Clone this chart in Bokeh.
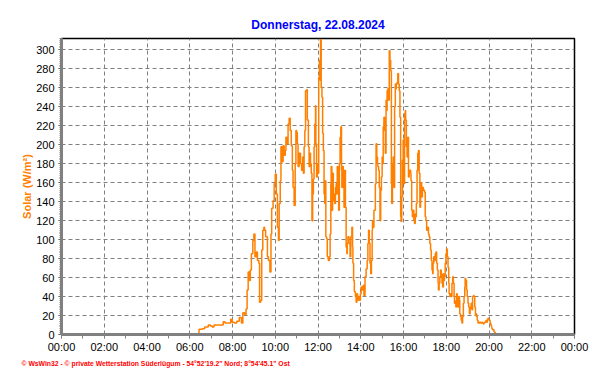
from bokeh.plotting import figure
from bokeh.models import Range1d, FixedTicker, Title
from bokeh.embed import file_html
from bokeh.resources import INLINE

title_text = "Donnerstag, 22.08.2024"
y_label = "Solar (W/m²)"
footer = "© WsWin32  -  © private Wetterstation Süderlügum  -  54°52'19.2\" Nord; 8°54'45.1\" Ost"

x_tick_hours = [0, 2, 4, 6, 8, 10, 12, 14, 16, 18, 20, 22, 24]
x_tick_labels = ["00:00", "02:00", "04:00", "06:00", "08:00", "10:00", "12:00",
                 "14:00", "16:00", "18:00", "20:00", "22:00", "00:00"]
y_ticks = [0, 20, 40, 60, 80, 100, 120, 140, 160, 180, 200, 220, 240, 260, 280, 300]

times = [
    "00:00", "06:25", "06:26", "06:35", "06:42", "06:52", "06:58", "07:03", "07:08", "07:20",
    "07:31", "07:34", "07:39", "07:45", "07:53", "07:55", "07:59", "08:05", "08:09", "08:12",
    "08:17", "08:19", "08:25", "08:29", "08:34", "08:38", "08:41", "08:44", "08:48", "08:50",
    "08:53", "08:57", "09:00", "09:03", "09:07", "09:10", "09:14", "09:16", "09:19", "09:22",
    "09:25", "09:28", "09:30", "09:33", "09:38", "09:41", "09:45", "09:48", "09:50", "09:54",
    "09:57", "10:00", "10:03", "10:06", "10:09", "10:11", "10:14", "10:16", "10:19", "10:22",
    "10:25", "10:28", "10:30", "10:33", "10:36", "10:39", "10:42", "10:45", "10:48", "10:50",
    "10:53", "10:56", "10:58", "11:00", "11:02", "11:04", "11:07", "11:09", "11:11", "11:14",
    "11:17", "11:19", "11:21", "11:23", "11:25", "11:28", "11:30", "11:33", "11:35", "11:37",
    "11:39", "11:41", "11:43", "11:45", "11:47", "11:49", "11:51", "11:53", "11:54", "11:56",
    "11:58", "12:00", "12:02", "12:04", "12:06", "12:07", "12:09", "12:11", "12:13", "12:15",
    "12:17", "12:19", "12:21", "12:22", "12:24", "12:26", "12:29", "12:32", "12:34", "12:36",
    "12:37", "12:39", "12:41", "12:43", "12:45", "12:47", "12:49", "12:51", "12:52", "12:54",
    "12:56", "12:58", "13:00", "13:02", "13:04", "13:06", "13:07", "13:09", "13:11", "13:13",
    "13:15", "13:17", "13:19", "13:21", "13:22", "13:24", "13:27", "13:30", "13:32", "13:35",
    "13:37", "13:38", "13:40", "13:42", "13:45", "13:47", "13:49", "13:51", "13:53", "13:56",
    "13:59", "14:01", "14:04", "14:07", "14:09", "14:12", "14:15", "14:18", "14:20", "14:22",
    "14:24", "14:26", "14:28", "14:30", "14:32", "14:33", "14:35", "14:37", "14:39", "14:41",
    "14:43", "14:45", "14:47", "14:48", "14:50", "14:52", "14:54", "14:56", "14:58", "15:00",
    "15:01", "15:03", "15:05", "15:07", "15:09", "15:11", "15:13", "15:14", "15:16", "15:18",
    "15:20", "15:22", "15:24", "15:26", "15:27", "15:29", "15:31", "15:33", "15:35", "15:37",
    "15:39", "15:40", "15:42", "15:44", "15:46", "15:48", "15:50", "15:52", "15:53", "15:55",
    "15:57", "15:59", "16:01", "16:03", "16:05", "16:06", "16:08", "16:10", "16:12", "16:14",
    "16:16", "16:18", "16:20", "16:21", "16:23", "16:25", "16:27", "16:29", "16:31", "16:33",
    "16:34", "16:36", "16:38", "16:40", "16:42", "16:44", "16:46", "16:48", "16:51", "16:53",
    "16:56", "16:59", "17:01", "17:03", "17:05", "17:07", "17:08", "17:10", "17:12", "17:14",
    "17:16", "17:18", "17:20", "17:22", "17:23", "17:25", "17:27", "17:29", "17:31", "17:33",
    "17:35", "17:37", "17:38", "17:40", "17:42", "17:44", "17:46", "17:48", "17:50", "17:52",
    "17:53", "17:55", "17:57", "17:59", "18:01", "18:03", "18:05", "18:07", "18:08", "18:10",
    "18:12", "18:14", "18:16", "18:18", "18:20", "18:22", "18:23", "18:25", "18:27", "18:29",
    "18:31", "18:33", "18:35", "18:37", "18:38", "18:40", "18:42", "18:44", "18:46", "18:48",
    "18:50", "18:52", "18:53", "18:55", "18:57", "18:59", "19:01", "19:03", "19:05", "19:07",
    "19:08", "19:10", "19:12", "19:14", "19:16", "19:18", "19:20", "19:22", "19:23", "19:25",
    "19:27", "19:29", "19:31", "19:33", "19:35", "19:37", "19:40", "19:42", "19:44", "19:46",
    "19:48", "19:50", "19:52", "19:53", "19:55", "19:57", "19:59", "20:01", "20:03", "20:05",
    "20:07", "20:08", "20:10", "20:12", "20:14", "20:16", "20:18", "20:20", "24:00",
]

solar = [
    0, 0, 5.5, 6, 8, 10, 9, 8, 10, 10,
    10, 13.5, 12, 12, 12, 16, 13, 12, 12, 14,
    14, 18, 12, 23, 21, 27, 47, 66, 57, 68,
    85, 99, 106, 82, 87, 78, 75, 34, 36, 89,
    110, 113, 110, 103, 82, 78, 66, 106, 133, 141,
    159, 169, 148, 113, 99, 138, 162, 198, 182, 199,
    189, 194, 208, 201, 222, 228, 215, 199, 173, 155,
    136, 180, 215, 213, 201, 177, 191, 191, 180, 173,
    187, 170, 198, 215, 257, 258, 226, 198, 177, 191,
    180, 170, 120, 148, 164, 198, 222, 241, 201, 166,
    180, 170, 271, 289, 268, 311, 261, 250, 212, 194,
    148, 138, 162, 103, 101, 82, 78, 82, 106, 159,
    177, 131, 170, 141, 148, 138, 155, 159, 148, 177,
    155, 131, 180, 208, 219, 173, 155, 177, 155, 134,
    173, 134, 92, 85, 96, 103, 96, 82, 103, 113,
    92, 75, 57, 45, 40, 34, 43, 36, 40, 36,
    43, 50, 47, 52, 41, 61, 69, 78, 96, 110,
    96, 75, 64, 78, 110, 120, 113, 131, 131, 159,
    201, 187, 180, 177, 173, 155, 120, 152, 166, 187,
    180, 219, 229, 215, 191, 247, 236, 257, 259, 247,
    299, 289, 278, 159, 138, 180, 187, 155, 240, 264,
    259, 264, 266, 275, 264, 257, 229, 124, 119, 145,
    184, 205, 159, 233, 236, 226, 198, 187, 208, 166,
    173, 173, 170, 162, 131, 124, 131, 120, 117, 127,
    124, 138, 173, 191, 194, 170, 134, 160, 145, 155,
    152, 150, 124, 120, 110, 113, 113, 106, 103, 96,
    89, 78, 68, 64, 75, 82, 78, 85, 87, 75,
    68, 54, 47, 54, 61, 68, 64, 54, 50, 64,
    57, 61, 75, 85, 90, 82, 71, 54, 43, 40,
    43, 40, 54, 61, 54, 40, 33, 35, 29, 43,
    40, 29, 40, 36, 22, 19, 15, 12, 19, 33,
    40, 50, 59, 57, 47, 40, 33, 29, 22, 27,
    29, 33, 26, 40, 41, 40, 29, 20, 22, 19,
    15, 12, 13, 12, 13, 12, 13, 12, 11, 12,
    13, 14, 15, 13, 15, 17, 16, 15, 12, 10,
    8, 6, 5, 5, 3, 2, 1, 0, 0,
]


def to_hours(s):
    h, m = s.split(":")
    return int(h) + int(m) / 60.0


hours = [to_hours(t) for t in times]

FONT = "Liberation Sans"
ORANGE = "#ff8000"
GRAY = "#808080"

p = figure(width=592, height=384, output_backend="svg", toolbar_location=None,
           x_range=Range1d(0, 24), y_range=Range1d(0, 312),
           min_border_left=61, min_border_right=18, min_border_top=38, min_border_bottom=50,
           background_fill_color="white", border_fill_color="white")

p.title.text = title_text
p.title.align = "center"
p.title.text_color = "#0000ff"
p.title.text_font = FONT
p.title.text_font_size = "12px"
p.title.text_font_style = "bold"
p.title.standoff = 14

p.outline_line_color = "black"
p.outline_line_width = 1.5

p.step(hours, solar, mode="after", line_color=ORANGE, line_width=1.5)

# x axis
xa = p.xaxis[0]
xa.ticker = FixedTicker(ticks=x_tick_hours, minor_ticks=list(range(0, 25)))
xa.major_label_overrides = {h: lab for h, lab in zip(x_tick_hours, x_tick_labels)}
xa.axis_line_color = GRAY
xa.axis_line_width = 3
xa.major_tick_line_color = GRAY
xa.major_tick_out = 4
xa.major_tick_in = 0
xa.minor_tick_line_color = GRAY
xa.minor_tick_out = 4
xa.minor_tick_in = 0
xa.major_label_standoff = 2
xa.major_label_text_font = FONT
xa.major_label_text_font_size = "11px"
xa.major_label_text_color = "black"

# y axis
ya = p.yaxis[0]
ya.ticker = FixedTicker(ticks=y_ticks, minor_ticks=list(range(0, 313, 2)))
ya.axis_line_color = GRAY
ya.axis_line_width = 3
ya.major_tick_line_color = "#404040"
ya.major_tick_out = 3
ya.major_tick_in = 0
ya.minor_tick_line_color = GRAY
ya.minor_tick_out = 2
ya.minor_tick_in = 1
ya.major_label_standoff = 4
ya.major_label_text_font = FONT
ya.major_label_text_font_size = "11px"
ya.major_label_text_color = "black"
ya.axis_label = y_label
ya.axis_label_text_color = ORANGE
ya.axis_label_text_font = FONT
ya.axis_label_text_font_size = "11px"
ya.axis_label_text_font_style = "bold"
ya.axis_label_standoff = 0

p.xgrid.ticker = FixedTicker(ticks=x_tick_hours)
p.ygrid.ticker = FixedTicker(ticks=y_ticks)
for g in (p.xgrid[0], p.ygrid[0]):
    g.grid_line_color = GRAY
    g.grid_line_dash = "4 3"
    g.grid_line_width = 1

p.add_layout(Title(text=footer, align="left", offset=-40, standoff=4, text_color="#ff0000",
                   text_font=FONT, text_font_size="6.8px", text_font_style="bold"), "below")

open("out.html", "w").write(file_html(p, INLINE))
